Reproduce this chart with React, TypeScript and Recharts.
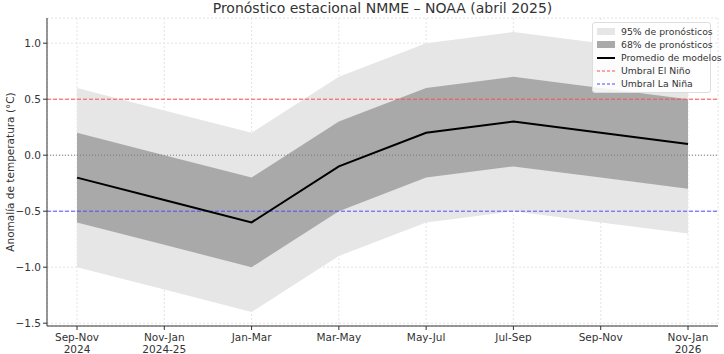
import React from 'react';
import { ComposedChart, Area, Line, XAxis, YAxis, CartesianGrid, ReferenceLine } from 'recharts';

const periods = ['Sep-Nov\n2024', 'Nov-Jan\n2024-25', 'Jan-Mar', 'Mar-May', 'May-Jul', 'Jul-Sep', 'Sep-Nov', 'Nov-Jan\n2026'];
const mean = [-0.2, -0.4, -0.6, -0.1, 0.2, 0.3, 0.2, 0.1];
const low68 = [-0.6, -0.8, -1.0, -0.5, -0.2, -0.1, -0.2, -0.3];
const high68 = [0.2, 0.0, -0.2, 0.3, 0.6, 0.7, 0.6, 0.5];
const low95 = [-1.0, -1.2, -1.4, -0.9, -0.6, -0.5, -0.6, -0.7];
const high95 = [0.6, 0.4, 0.2, 0.7, 1.0, 1.1, 1.0, 0.9];
const yTicks = [-1.5, -1.0, -0.5, 0.0, 0.5, 1.0];

const data = periods.map((p, i) => ({
    period: p,
    mean: mean[i],
    r68: [low68[i], high68[i]],
    r95: [low95[i], high95[i]],
}));

const font = '"DejaVu Sans", sans-serif';

const XTick = (props: any) => {
    const { x, y, payload } = props;
    const lines = String(payload.value).split('\n');
    return (
        <g transform={`translate(${x},${y})`}>
            {lines.map((l, i) => (
                <text key={i} x={0} y={i * 12} dy={9} textAnchor="middle" fontSize={10.5} fill="#333" fontFamily={font}>
                    {l}
                </text>
            ))}
        </g>
    );
};

const fmt = (v: number) => (v < 0 ? '\u2212' + Math.abs(v).toFixed(1) : v.toFixed(1));

const legendItems = [
    { label: '95% de pronósticos', kind: 'patch', color: '#e6e6e6' },
    { label: '68% de pronósticos', kind: 'patch', color: '#a9a9a9' },
    { label: 'Promedio de modelos', kind: 'line', color: '#000' },
    { label: 'Umbral El Niño', kind: 'dash', color: '#ff4d4d' },
    { label: 'Umbral La Niña', kind: 'dash', color: '#4d4dff' },
];

// legend drawn as a plain box so it doesn't shrink the plot area
const LegendBox = () => (
    <div style={{ position: 'absolute', left: 592, top: 22, width: 119, boxSizing: 'border-box', background: 'rgba(255,255,255,0.85)', border: '1px solid #ddd', borderRadius: 3, padding: '2px 4px', fontFamily: font, fontSize: 9.3, color: '#333' }}>
        {legendItems.map((it) => (
            <div key={it.label} style={{ display: 'flex', alignItems: 'center', height: 13, whiteSpace: 'nowrap' }}>
                <svg width={18} height={10} style={{ marginRight: 6, flex: 'none' }}>
                    {it.kind === 'patch' && <rect x={0} y={1} width={18} height={7} fill={it.color} />}
                    {it.kind === 'line' && <line x1={0} x2={18} y1={5} y2={5} stroke={it.color} strokeWidth={2} />}
                    {it.kind === 'dash' && <line x1={0} x2={18} y1={5} y2={5} stroke={it.color} strokeWidth={1} strokeDasharray="3 2" />}
                </svg>
                <span>{it.label}</span>
            </div>
        ))}
    </div>
);

export default function App() {
    return (
        <div style={{ position: 'absolute', left: 0, top: 0, width: 724, height: 354, background: '#fff' }}>
            <div style={{ position: 'absolute', left: 47, width: 671, top: 0, textAlign: 'center', fontFamily: font, fontSize: 14, color: '#333' }}>
                Pronóstico estacional NMME – NOAA (abril 2025)
            </div>
            <ComposedChart width={724} height={354} data={data} margin={{ top: 18, right: 6, bottom: 0, left: 0 }}>
                <CartesianGrid stroke="#e4e4e4" strokeDasharray="2 2" />
                <XAxis
                    dataKey="period"
                    interval={0}
                    padding={{ left: 30, right: 30 }}
                    tick={<XTick />}
                    height={28}
                    stroke="#333"
                    tickSize={4}
                    tickLine={{ stroke: '#333' }}
                />
                <YAxis
                    domain={[-1.525, 1.225]}
                    ticks={yTicks}
                    tickFormatter={fmt}
                    width={47}
                    stroke="#333"
                    tickSize={4}
                    tick={{ fontSize: 10.5, fill: '#333', fontFamily: font }}
                    label={{ value: 'Anomalía de temperatura (°C)', angle: -90, position: 'insideLeft', offset: 10, style: { textAnchor: 'middle', fontSize: 10.5, fill: '#333', fontFamily: font } }}
                />
                <Area dataKey="r95" type="linear" fill="#e6e6e6" fillOpacity={1} stroke="none" isAnimationActive={false} />
                <Area dataKey="r68" type="linear" fill="#a9a9a9" fillOpacity={1} stroke="none" isAnimationActive={false} />
                <ReferenceLine y={0} stroke="#777" strokeDasharray="1 2" />
                <ReferenceLine y={0.5} stroke="#ff4d4d" strokeDasharray="4 2" />
                <ReferenceLine y={-0.5} stroke="#4d4dff" strokeDasharray="4 2" />
                <Line dataKey="mean" type="linear" stroke="#000" strokeWidth={2} dot={false} isAnimationActive={false} />
            </ComposedChart>
            <LegendBox />
        </div>
    );
}
